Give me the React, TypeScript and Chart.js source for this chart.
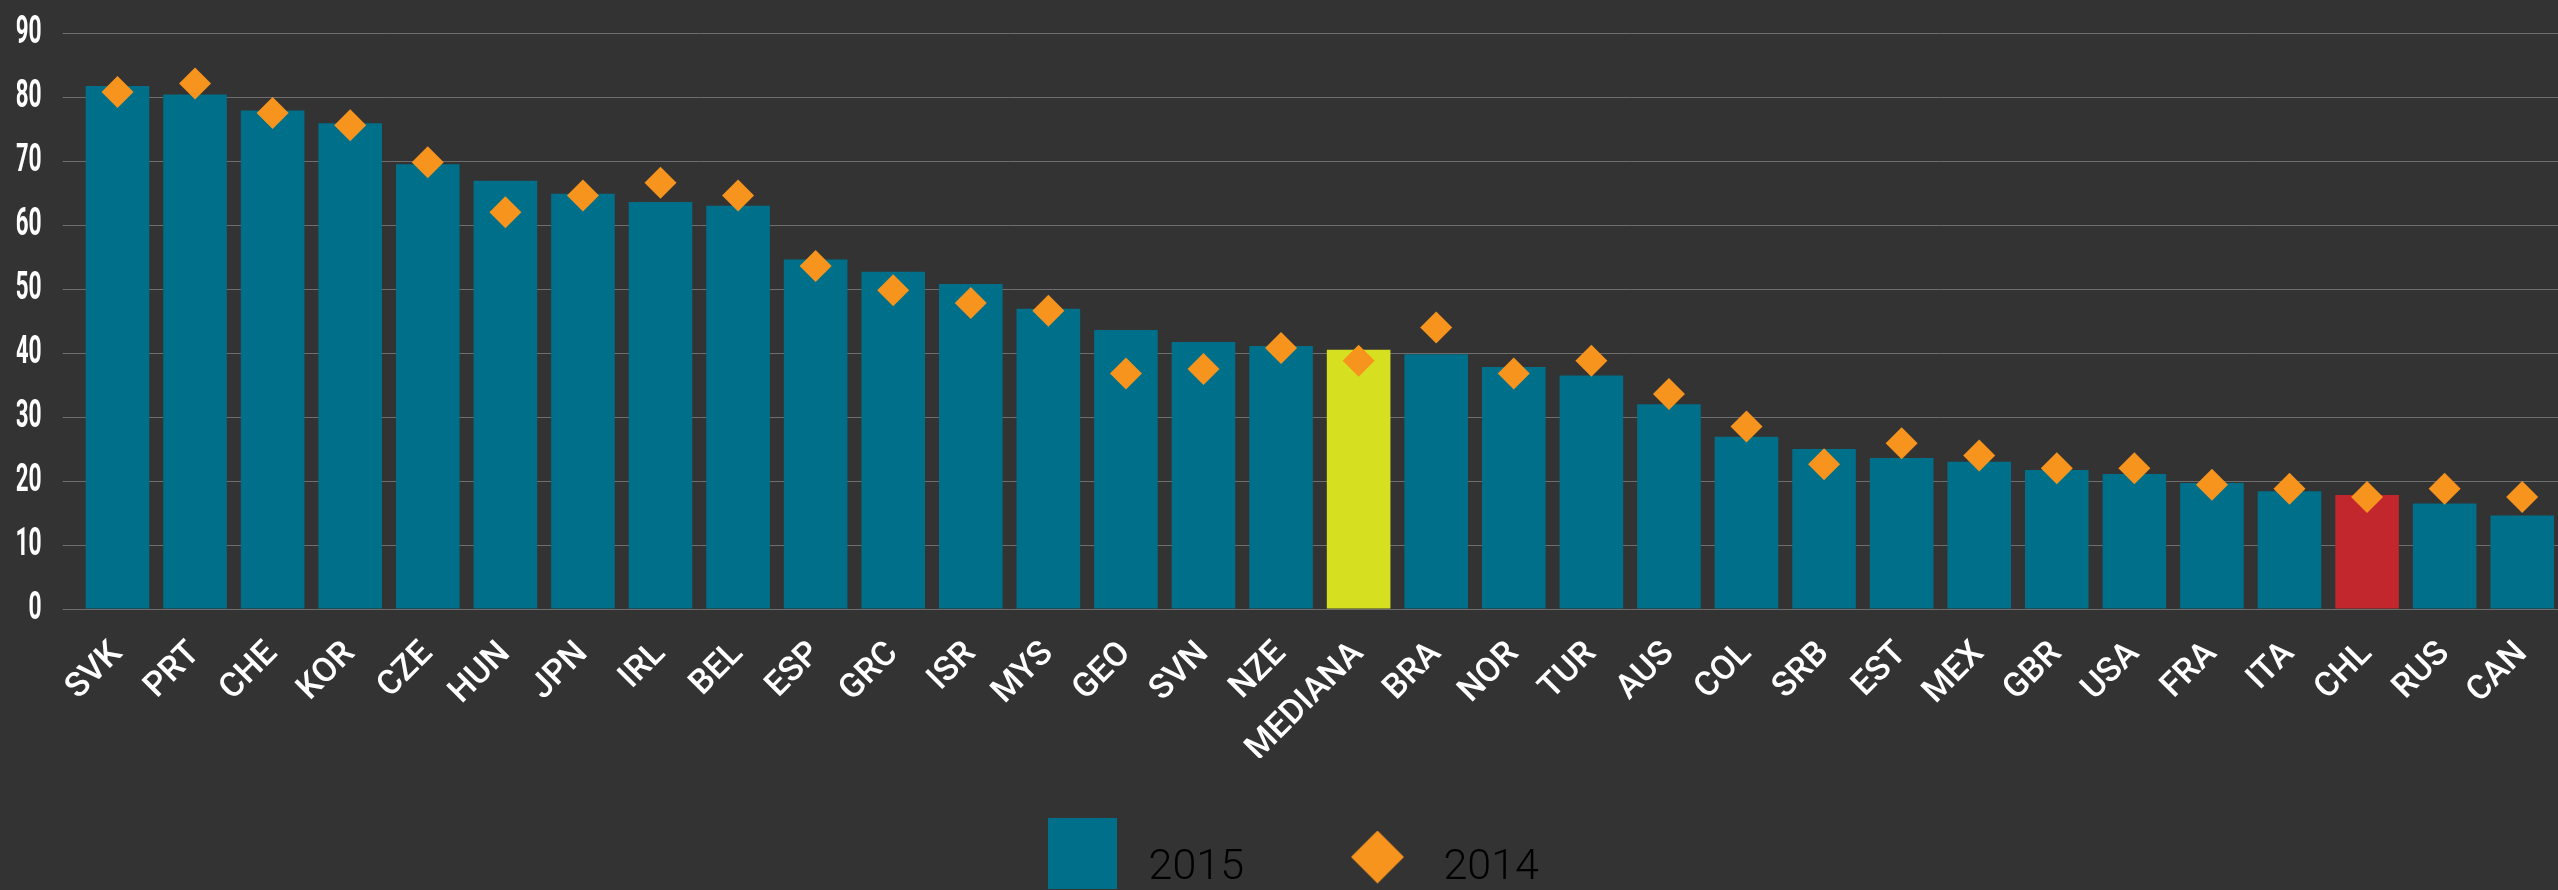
import React, { useEffect, useRef } from 'react';
import { Chart, registerables, LinearScale } from 'chart.js';

Chart.register(...registerables);

// Linear scale whose tick labels are drawn horizontally compressed (condensed face look)
class CondensedLinearScale extends LinearScale {
  static id = 'condensedLinear';
  static defaults = LinearScale.defaults;
  drawLabels(chartArea: any) {
    const ctx = this.ctx;
    const opts: any = this.options;
    const pivot = this.right - (opts.grid.tickLength || 0) - (opts.ticks.padding || 0);
    const squeeze = opts.ticks.squeeze || 1;
    ctx.save();
    ctx.translate(pivot, 0);
    ctx.scale(squeeze, 1);
    ctx.translate(-pivot, 0);
    super.drawLabels(chartArea);
    ctx.restore();
  }
}
Chart.register(CondensedLinearScale as any);

const categories = [
  'SVK', 'PRT', 'CHE', 'KOR', 'CZE', 'HUN', 'JPN', 'IRL', 'BEL', 'ESP', 'GRC',
  'ISR', 'MYS', 'GEO', 'SVN', 'NZE', 'MEDIANA', 'BRA', 'NOR', 'TUR', 'AUS',
  'COL', 'SRB', 'EST', 'MEX', 'GBR', 'USA', 'FRA', 'ITA', 'CHL', 'RUS', 'CAN',
];

const values2015 = [
  81.7, 80.4, 77.9, 75.9, 69.5, 66.9, 64.9, 63.6, 63.0, 54.6, 52.7,
  50.8, 46.9, 43.6, 41.7, 41.1, 40.5, 39.8, 37.8, 36.5, 32.0,
  26.9, 25.0, 23.6, 23.0, 21.7, 21.1, 19.7, 18.4, 17.8, 16.5, 14.6,
];

const values2014 = [
  80.8, 82.1, 77.5, 75.6, 69.8, 62.0, 64.6, 66.6, 64.6, 53.6, 49.8,
  47.8, 46.6, 36.8, 37.5, 40.8, 38.8, 44.0, 36.8, 38.8, 33.6,
  28.5, 22.6, 25.9, 24.0, 22.0, 22.0, 19.4, 18.8, 17.5, 18.8, 17.5,
];

const seriesNames = ['2015', '2014'];
const yMin = 0;
const yMax = 90;
const yStep = 10;

const TEAL = '#006f89';
const ORANGE = '#f7941e';
const YELLOW = '#d7df21';
const RED = '#c1272d';
const BG = '#333333';
const GRID = '#6e6e6e';

function barColor(cat: string): string {
  if (cat === 'MEDIANA') return YELLOW;
  if (cat === 'CHL') return RED;
  return TEAL;
}

function makeSquareIcon(): HTMLCanvasElement {
  const c = document.createElement('canvas');
  c.width = 69;
  c.height = 101;
  const g = c.getContext('2d')!;
  g.fillStyle = TEAL;
  g.fillRect(0, 0, 69, 71);
  return c;
}

function makeDiamondIcon(): HTMLCanvasElement {
  const c = document.createElement('canvas');
  c.width = 53;
  c.height = 76;
  const g = c.getContext('2d')!;
  g.fillStyle = ORANGE;
  g.beginPath();
  g.moveTo(26.5, 0);
  g.lineTo(53, 26.5);
  g.lineTo(26.5, 53);
  g.lineTo(0, 26.5);
  g.closePath();
  g.fill();
  return c;
}

export default function App() {
  const canvasRef = useRef<HTMLCanvasElement | null>(null);

  useEffect(() => {
    if (!canvasRef.current) return;
    const squareIcon = makeSquareIcon();
    const diamondIcon = makeDiamondIcon();
    const chart = new Chart(canvasRef.current, {
      type: 'bar',
      data: {
        labels: categories,
        datasets: [
          {
            type: 'line',
            label: seriesNames[1],
            data: values2014,
            showLine: false,
            pointStyle: 'rectRot',
            pointRadius: 16,
            pointHoverRadius: 16,
            pointBackgroundColor: ORANGE,
            pointBorderWidth: 0,
            borderColor: ORANGE,
            backgroundColor: ORANGE,
            order: 1,
          } as any,
          {
            type: 'bar',
            label: seriesNames[0],
            data: values2015,
            backgroundColor: categories.map(barColor),
            borderWidth: 0,
            categoryPercentage: 1,
            barPercentage: 0.82,
            order: 2,
          },
        ],
      },
      options: {
        animation: false,
        responsive: false,
        devicePixelRatio: 1,
        layout: { padding: { top: 33, left: 0, right: 0, bottom: -10 } },
        plugins: {
          tooltip: { enabled: false },
          legend: {
            position: 'bottom',
            labels: {
              usePointStyle: true,
              pointStyleWidth: 89,
              padding: 89,
              color: '#f2f2f2',
              font: { family: 'Roboto, "Open Sans", sans-serif', size: 43, weight: '300' },
              generateLabels: () => [
                {
                  text: seriesNames[0],
                  pointStyle: squareIcon,
                  fillStyle: TEAL,
                  strokeStyle: TEAL,
                  lineWidth: 0,
                  hidden: false,
                  datasetIndex: 1,
                } as any,
                {
                  text: seriesNames[1],
                  pointStyle: diamondIcon,
                  fillStyle: ORANGE,
                  strokeStyle: ORANGE,
                  lineWidth: 0,
                  hidden: false,
                  datasetIndex: 0,
                } as any,
              ],
            },
          },
        },
        scales: {
          x: {
            grid: { display: false },
            border: { display: false },
            ticks: {
              color: '#ffffff',
              font: { family: 'Roboto, "Open Sans", sans-serif', size: 34, weight: '500' },
              minRotation: 45,
              maxRotation: 45,
              autoSkip: false,
              padding: 17,
            },
            afterFit: (s: any) => {
              s.height = 149;
            },
          },
          y: {
            type: 'condensedLinear',
            min: yMin,
            max: yMax,
            ticks: {
              stepSize: yStep,
              color: '#ffffff',
              font: {
                family: 'Roboto, "Noto Sans", sans-serif',
                size: 38,
                weight: 'bold',
                lineHeight: 0.5,
              },
              padding: 21,
              squeeze: 0.6,
            },
            grid: { color: GRID, lineWidth: 1, tickLength: 16, tickColor: GRID },
            border: { display: false },
            afterFit: (s: any) => {
              s.width = 78.7;
            },
          } as any,
        },
      },
    });
    return () => chart.destroy();
  }, []);

  return (
    <div
      style={{
        position: 'fixed',
        left: 0,
        top: 0,
        width: '100vw',
        height: '100vh',
        overflow: 'hidden',
        background: BG,
      }}
    >
      <canvas
        ref={canvasRef}
        width={2577}
        height={890}
        style={{ display: 'block', width: 2577, height: 890 }}
      />
    </div>
  );
}
